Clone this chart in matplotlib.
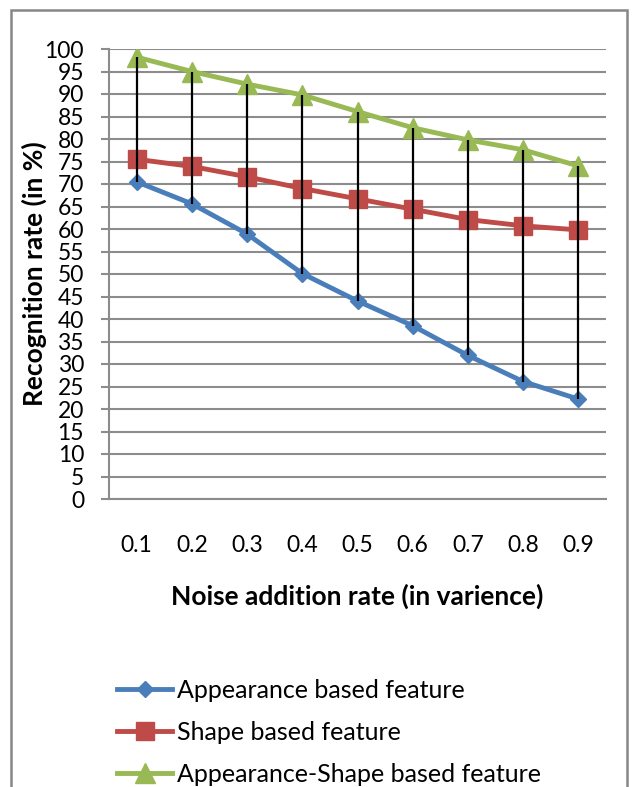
import matplotlib
matplotlib.use("Agg")
import matplotlib.pyplot as plt
from matplotlib.patches import Rectangle

plt.rcParams['font.family'] = ['Lato', 'DejaVu Sans']

# Data
noise_rates = ["0.1", "0.2", "0.3", "0.4", "0.5", "0.6", "0.7", "0.8", "0.9"]
appearance = [70.5, 65.6, 58.9, 50.1, 44.0, 38.5, 31.9, 26.1, 22.2]
shape = [75.5, 73.9, 71.6, 69.0, 66.7, 64.4, 62.1, 60.7, 59.8]
app_shape = [98.2, 95.0, 92.2, 89.8, 86.1, 82.5, 79.8, 77.6, 74.0]

W, H = 632, 787
fig = plt.figure(figsize=(W / 100, H / 100), dpi=100)

# outer chart frame (bottom edge is cut off in the reference)
fig.add_artist(Rectangle((11 / W, -0.05), 616 / W, (H - 10) / H + 0.05,
                         transform=fig.transFigure, fill=False,
                         edgecolor="#878787", linewidth=1.8))

ax = fig.add_axes([109 / W, (H - 499) / H, 497 / W, 450 / H])
x = list(range(1, len(noise_rates) + 1))

grid_col = "#8c8c8c"
ax.set_ylim(0, 100)
ax.set_xlim(0.5, len(noise_rates) + 0.5)
ax.set_yticks(range(0, 101, 5))
ax.yaxis.grid(True, color=grid_col, linewidth=1.5)
ax.set_axisbelow(True)
for s in ["top", "right"]:
    ax.spines[s].set_visible(False)
ax.spines["left"].set_color(grid_col)
ax.spines["left"].set_linewidth(1.5)
ax.spines["bottom"].set_color(grid_col)
ax.spines["bottom"].set_linewidth(1.5)
ax.tick_params(axis="y", length=6, width=1.5, color=grid_col, labelsize=16.5, pad=12)
ax.tick_params(axis="x", length=0, labelsize=16.5, pad=26)
ax.set_xticks(x)
ax.set_xticklabels(noise_rates)

l1, = ax.plot(x, appearance, color="#4a7ebb", lw=3.5, marker="D", ms=8.5,
              label="Appearance based feature", zorder=3)
l2, = ax.plot(x, shape, color="#be4b48", lw=3.5, marker="s", ms=13,
              label="Shape based feature", zorder=3)
l3, = ax.plot(x, app_shape, color="#98b954", lw=3.5, marker="^", ms=14,
              label="Appearance-Shape based feature", zorder=3)

# high-low lines
ax.vlines(x, appearance, app_shape, color="black", lw=1.6, zorder=4)

ax.set_xlabel("Noise addition rate (in varience)", fontsize=19, fontweight="bold", labelpad=20)
ax.set_ylabel("Recognition rate (in %)", fontsize=19, fontweight="bold", labelpad=-2)

fig.legend(handles=[l1, l2, l3], loc="upper left",
           bbox_to_anchor=(117 / W, (H - 679) / H), frameon=False,
           fontsize=18, handlelength=2.2, handletextpad=0.2,
           labelspacing=0.75, borderaxespad=0, borderpad=0)

fig.savefig("out.png", dpi=100)
